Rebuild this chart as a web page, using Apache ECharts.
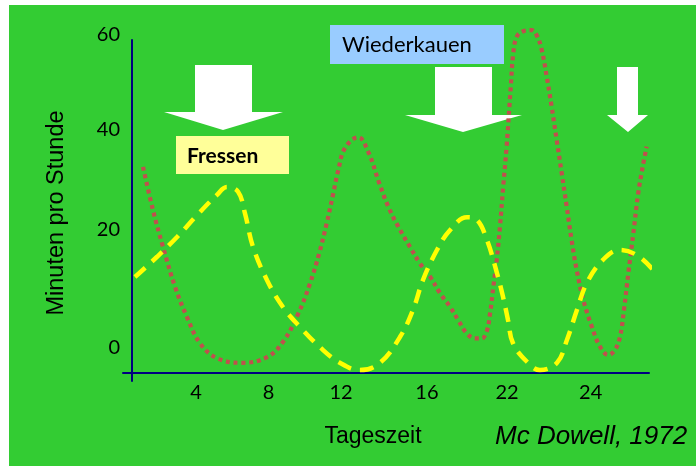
<!DOCTYPE html>
<html>
<head>
<meta charset="utf-8">
<script src="https://cdn.jsdelivr.net/npm/echarts@6.0.0/dist/echarts.min.js"></script>
<style>
  html, body { margin: 0; padding: 0; background: #ffffff; }
  #bg { position: absolute; left: 9px; top: 5px; width: 687px; height: 461px; background: #33CC33; }
  #chart { position: absolute; left: 0; top: 0; width: 696px; height: 466px; }
</style>
</head>
<body>
<div id="bg"></div>
<div id="chart"></div>
<script>
// Rumination (Wiederkauen) – red dotted curve
const ruminateX = [0.63,1.18,1.74,2.41,3.07,3.79,4.74,6.13,7.52,8.42,9.26,9.91,10.42,10.83,11.2,11.48,11.85,12.59,13.14,13.76,14.26,14.81,15.46,16.02,16.57,17.13,17.68,18.14,18.61,19.07,19.44,19.72,19.91,20.09,20.28,20.46,20.64,20.83,21.06,21.2,21.39,21.76,22.22,22.5,22.78,23.06,23.33,23.61,23.89,24.17,24.44,24.72,25.09,25.56,26.02,26.48,26.85,27.13,27.35,27.59,27.87,28.14,28.39,28.61];
const ruminateY = [39.6,31.3,24.2,16.5,10.7,5.7,2.8,1.9,3.0,6.0,11.4,17.2,23.0,28.7,34.5,39.0,43.2,45.3,42.5,36.4,31.9,28.1,24.2,21.0,18.5,15.3,12.7,10.1,7.6,6.6,6.6,7.9,11.4,16.5,21.7,28.1,35.8,43.5,55.0,61.4,64.6,65.7,65.9,64.9,62.1,56.9,51.2,44.8,38.4,31.9,25.5,19.8,14.0,8.9,5.0,3.4,4.4,6.9,12.1,19.1,26.8,34.5,39.6,43.5];

// Feeding (Fressen) – yellow dashed curve
const feedX = [0.18,1.41,2.52,3.63,4.74,5.29,5.91,6.29,6.74,7.52,8.41,9.35,10.46,11.57,12.68,13.79,14.91,15.63,16.18,16.96,17.68,18.63,19.18,19.74,20.29,20.63,20.91,21.18,21.96,22.68,23.63,24.18,24.74,25.29,26.18,27.13,28.07,28.96];
const feedY = [18.4,22.3,26.1,30.3,34.2,35.7,34.8,30.7,24.2,17.8,12.6,8.8,4.9,1.9,0.5,1.9,6.9,12.1,17.8,23.6,27.4,29.9,29.4,25.5,19.2,14.6,10.1,5.7,2.1,0.5,1.9,6.3,12.1,17.3,21.7,23.6,22.6,19.8];

// Tick labels (positions on the axes, and their texts)
const xTickPos = [3.57, 7.6, 11.63, 16.4, 20.85, 25.5];
const xTickLabels = ['4', '8', '12', '16', '22', '24'];
const yTickPos = [4.8, 27.5, 46.8, 64.0];
const yTickLabels = ['0', '20', '40', '60'];

const xMin = -0.483, xMax = 28.74;
const yMin = -1.6, yMax = 64.0;

const pair = (xs, ys) => xs.map((x, i) => [x, ys[i]]);

const chart = echarts.init(document.getElementById('chart'), null, { renderer: 'canvas' });
const axisColor = '#000080';

chart.setOption({
  animation: false,
  backgroundColor: 'transparent',
  grid: { left: 123, right: 47, top: 40, bottom: 85, containLabel: false, outerBoundsMode: 'none' },
  xAxis: {
    type: 'value', min: xMin, max: xMax,
    axisLine: { show: true, onZero: true, lineStyle: { color: axisColor, width: 2 } },
    axisTick: { show: false },
    splitLine: { show: false },
    axisLabel: {
      customValues: xTickPos,
      margin: 2,
      color: '#000', fontFamily: 'Lato', fontSize: 20,
      formatter: v => { const i = xTickPos.indexOf(v); return i >= 0 ? xTickLabels[i] : ''; }
    }
  },
  yAxis: {
    type: 'value', min: yMin, max: yMax,
    axisLine: { show: true, onZero: true, lineStyle: { color: axisColor, width: 2 } },
    axisTick: { show: false },
    splitLine: { show: false },
    axisLabel: {
      customValues: yTickPos,
      margin: 3,
      color: '#000', fontFamily: 'Lato', fontSize: 20,
      formatter: v => {
        const i = yTickPos.indexOf(v);
        if (i < 0) return '';
        return v === yMax ? '{up|' + yTickLabels[i] + '}' : yTickLabels[i];
      },
      rich: { up: { fontFamily: 'Lato', fontSize: 20, color: '#000', padding: [0, 0, 11, 0] } }
    }
  },
  graphic: [
    { type: 'polygon', shape: { points: [[195,65],[252,65],[252,112],[283,112],[223,130],[164,112],[195,112]] }, style: { fill: '#ffffff' } },
    { type: 'polygon', shape: { points: [[435,67],[492,67],[492,115],[522,115],[463,132],[405,115],[435,115]] }, style: { fill: '#ffffff' } },
    { type: 'polygon', shape: { points: [[617,67],[638,67],[638,115],[648,115],[628,132],[607,115],[617,115]] }, style: { fill: '#ffffff' } },
    { type: 'rect', shape: { x: 176, y: 136, width: 113, height: 38 }, style: { fill: '#FFFF99' } },
    { type: 'text', x: 187, y: 156, style: { text: 'Fressen', fill: '#000', font: 'bold 21px Lato', textAlign: 'left', textVerticalAlign: 'middle' } },
    { type: 'rect', shape: { x: 330, y: 25, width: 174, height: 39 }, style: { fill: '#99CCFF' } },
    { type: 'text', x: 342, y: 45, style: { text: 'Wiederkauen', fill: '#000', font: '22px Lato', textAlign: 'left', textVerticalAlign: 'middle' } },
    { type: 'text', x: 57, y: 213, rotation: Math.PI / 2, style: { text: 'Minuten pro Stunde', fill: '#000', font: '23.5px "Liberation Sans"', textAlign: 'center', textVerticalAlign: 'middle' } },
    { type: 'text', x: 373, y: 437, style: { text: 'Tageszeit', fill: '#000', font: '23px "Liberation Sans"', textAlign: 'center', textVerticalAlign: 'middle' } },
    { type: 'text', x: 495, y: 437, style: { text: 'Mc Dowell, 1972', fill: '#000', font: 'italic 26px "Liberation Sans"', textAlign: 'left', textVerticalAlign: 'middle' } }
  ],
  series: [
    {
      name: 'Wiederkauen', type: 'line', data: pair(ruminateX, ruminateY),
      showSymbol: false, smooth: 0.4, clip: false, z: 3,
      lineStyle: { color: '#C0504D', width: 4.2, type: [4, 3.8], cap: 'butt' }
    },
    {
      name: 'Fressen', type: 'line', data: pair(feedX, feedY),
      showSymbol: false, smooth: 0.4, clip: false, z: 4,
      lineStyle: { color: '#FFFF00', width: 4.5, type: [14, 9], cap: 'butt' }
    }
  ]
});
</script>
</body>
</html>
